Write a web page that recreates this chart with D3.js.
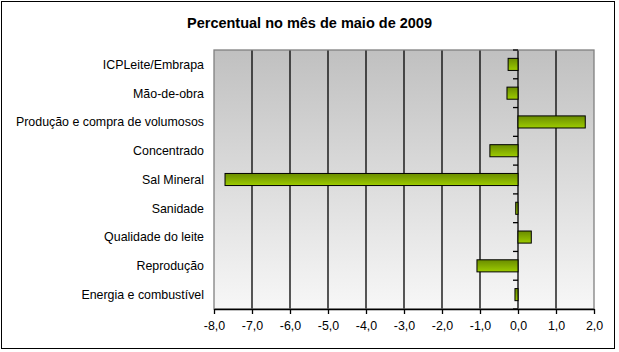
<!DOCTYPE html>
<html>
<head>
<meta charset="utf-8">
<script src="https://cdn.jsdelivr.net/npm/d3@7"></script>
<style>
  body { margin: 0; background: #fff; }
  svg { display: block; font-family: "Liberation Sans", Arial, sans-serif; }
</style>
</head>
<body>
<div id="chart"></div>
<script>
// Categories top to bottom and their values (%)
const categories = [
  "ICPLeite/Embrapa",
  "Mão-de-obra",
  "Produção e compra de volumosos",
  "Concentrado",
  "Sal Mineral",
  "Sanidade",
  "Qualidade do leite",
  "Reprodução",
  "Energia e combustível"
];
const values = [-0.26, -0.29, 1.77, -0.74, -7.71, -0.06, 0.35, -1.08, -0.08];
const xTicks = [-8, -7, -6, -5, -4, -3, -2, -1, 0, 1, 2];
const title = "Percentual no mês de maio de 2009";

const W = 619, H = 352;
const margin = { top: 50, right: 25, bottom: 43, left: 214 };
const width = 594 - margin.left;
const height = 309 - margin.top;

const svg = d3.select("#chart").append("svg")
  .attr("width", W)
  .attr("height", H);

// outer frame
svg.append("rect")
  .attr("x", 1.5).attr("y", 1.5)
  .attr("width", 613).attr("height", 347)
  .attr("fill", "#fff")
  .attr("stroke", "#000")
  .attr("stroke-width", 1);

const defs = svg.append("defs");
const bg = defs.append("linearGradient").attr("id", "bg")
  .attr("x1", 0).attr("y1", 0).attr("x2", 0).attr("y2", 1);
bg.append("stop").attr("offset", "0%").attr("stop-color", "#c0c0c0");
bg.append("stop").attr("offset", "100%").attr("stop-color", "#f7f7f7");

const barGrad = defs.append("linearGradient").attr("id", "bar")
  .attr("x1", 0).attr("y1", 0).attr("x2", 0).attr("y2", 1);
barGrad.append("stop").attr("offset", "0%").attr("stop-color", "#6a8c00");
barGrad.append("stop").attr("offset", "100%").attr("stop-color", "#9dcc00");

const g = svg.append("g")
  .attr("transform", `translate(${margin.left},${margin.top})`);

const x = d3.scaleLinear().domain([-8, 2]).range([0, width]);
const y = d3.scaleBand().domain(categories).range([0, height]).paddingInner(0.58).paddingOuter(0.29);
const yb = d3.scaleBand().domain(categories).range([0, height]);

// plot area
g.append("rect")
  .attr("width", width)
  .attr("height", height)
  .attr("fill", "url(#bg)");

// vertical gridlines
g.selectAll(".grid")
  .data(xTicks.slice(1, -1))
  .join("line")
  .attr("x1", d => x(d)).attr("x2", d => x(d))
  .attr("y1", 0).attr("y2", height)
  .attr("stroke", "#000")
  .attr("stroke-width", 1.3);

// plot border
g.append("rect")
  .attr("width", width)
  .attr("height", height)
  .attr("fill", "none")
  .attr("stroke", "#808080")
  .attr("stroke-width", 1.3);

// category ticks on zero line
g.selectAll(".ctick")
  .data(categories)
  .join("line")
  .attr("x1", x(0) - 5).attr("x2", x(0))
  .attr("y1", d => yb(d) + yb.bandwidth())
  .attr("y2", d => yb(d) + yb.bandwidth())
  .attr("stroke", "#000")
  .attr("stroke-width", 1.3);
g.append("line")
  .attr("x1", x(0) - 5).attr("x2", x(0))
  .attr("y1", 0).attr("y2", 0)
  .attr("stroke", "#000").attr("stroke-width", 1.3);

// bars
g.selectAll(".bar")
  .data(categories)
  .join("rect")
  .attr("x", (d, i) => x(Math.min(0, values[i])))
  .attr("y", d => y(d))
  .attr("width", (d, i) => Math.abs(x(values[i]) - x(0)))
  .attr("height", y.bandwidth())
  .attr("fill", "url(#bar)")
  .attr("stroke", "#000")
  .attr("stroke-width", 1);

// category labels
g.selectAll(".label")
  .data(categories)
  .join("text")
  .attr("x", -10)
  .attr("y", d => yb(d) + yb.bandwidth() / 2)
  .attr("dy", "0.35em")
  .attr("text-anchor", "end")
  .attr("font-size", 12.4)
  .attr("fill", "#000")
  .text(d => d);

// x axis
const xAxis = g.append("g")
  .attr("transform", `translate(0,${height})`)
  .call(d3.axisBottom(x)
    .tickValues(xTicks)
    .tickSize(5)
    .tickSizeOuter(0)
    .tickFormat(d => d3.format(".1f")(d).replace(".", ",").replace("−", "-")));
xAxis.select(".domain").attr("stroke", "#000").attr("stroke-width", 1.3);
xAxis.selectAll(".tick line").attr("stroke", "#000").attr("stroke-width", 1.3);
xAxis.selectAll(".tick text")
  .attr("font-size", 12.4)
  .attr("font-family", "Liberation Sans, Arial, sans-serif")
  .attr("fill", "#000")
  .attr("y", 12);

// title
svg.append("text")
  .attr("x", 309.5)
  .attr("y", 27.5)
  .attr("text-anchor", "middle")
  .attr("font-size", 14.5)
  .attr("font-weight", "bold")
  .text(title);
</script>
</body>
</html>
